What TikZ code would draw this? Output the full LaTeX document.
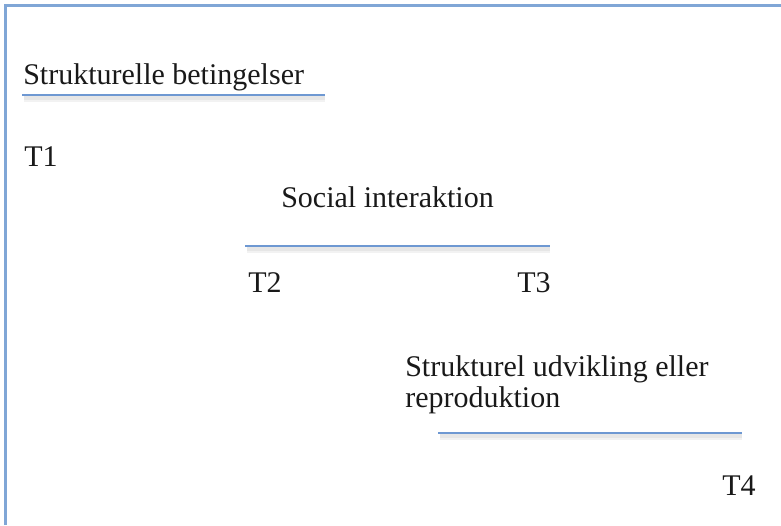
\documentclass[tikz,border=0pt]{standalone}
\usepackage{fontspec}
\setmainfont{Liberation Serif}
\definecolor{frameblue}{RGB}{128,166,214}
\definecolor{ruleblue}{RGB}{110,152,210}
\tikzset{
  lbl/.style={anchor=base west, inner sep=0pt, font=\fontsize{22.5}{23.5}\selectfont, text=black!90},
  rulel/.style={draw=ruleblue, line width=1.5},
  shade/.style={draw=black, opacity=0.05, line width=5},
}
\begin{document}
\begin{tikzpicture}[x=0.75pt,y=-0.75pt]
\useasboundingbox (0,0) rectangle (781,525);
% frame
\draw[frameblue, line width=2.2] (5.5,525) -- (5.5,5.5) -- (781,5.5);
% texts
\node[lbl] (sb) at (23,84) {Strukturelle betingelser};
\node[lbl] (t1) at (24,166) {T1};
\node[lbl] (si) at (281,207) {Social interaktion};
\node[lbl] (t2) at (248,292) {T2};
\node[lbl] (t3) at (517,292) {T3};
\node[lbl, align=left, anchor=north west] (su) at (405,355.5) {Strukturel udvikling eller\\reproduktion};
\node[lbl] (t4) at (722,495) {T4};
% rule lines with soft shadows
\foreach \xa/\xb/\yy in {22/325/95, 245/550/246, 438/742/433}{
  \draw[shade] (\xa+2,\yy+4) -- (\xb,\yy+4);
  \draw[shade, line width=3] (\xa+2,\yy+3) -- (\xb,\yy+3);
  \draw[rulel] (\xa,\yy) -- (\xb,\yy);
}
\end{tikzpicture}
\end{document}
